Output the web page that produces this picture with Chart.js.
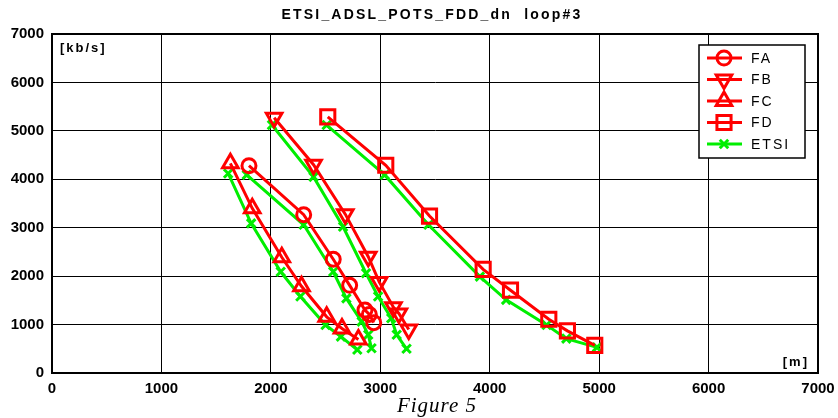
<!DOCTYPE html>
<html>
<head>
<meta charset="utf-8">
<script src="https://cdn.jsdelivr.net/npm/chart.js@4"></script>
<style>
  body { margin: 0; background: #fff; }
  canvas { display: block; }
</style>
</head>
<body>
<canvas id="chart" width="838" height="418"></canvas>
<script>
// distances [m] and bit rates [kb/s]
const faDist = [1800, 2300, 2570, 2720, 2860, 2900, 2940];
const faRate = [4280, 3270, 2350, 1810, 1300, 1210, 1040];
const fbDist = [2030, 2390, 2680, 2890, 2990, 3120, 3170, 3260];
const fbRate = [5270, 4300, 3280, 2400, 1880, 1360, 1230, 900];
const fcDist = [1630, 1830, 2100, 2280, 2510, 2650, 2800];
const fcRate = [4330, 3400, 2390, 1790, 1160, 920, 690];
const fdDist = [2520, 3050, 3450, 3940, 4190, 4540, 4710, 4960];
const fdRate = [5290, 4290, 3240, 2140, 1710, 1110, 870, 570];

// ETSI reference curves, one for each of the four cases
const etsiADist = [1780, 2300, 2570, 2690, 2830, 2890, 2920];
const etsiARate = [4090, 3060, 2090, 1540, 1060, 790, 510];
const etsiBDist = [2010, 2390, 2660, 2870, 2980, 3100, 3150, 3240];
const etsiBRate = [5120, 4050, 3020, 2060, 1580, 1130, 790, 500];
const etsiCDist = [1610, 1820, 2090, 2270, 2500, 2640, 2790];
const etsiCRate = [4120, 3090, 2090, 1580, 990, 750, 480];
const etsiDDist = [2510, 3040, 3440, 3910, 4150, 4520, 4700, 4980];
const etsiDRate = [5120, 4090, 3060, 1990, 1510, 990, 710, 530];

const axisTicks = [0, 1000, 2000, 3000, 4000, 5000, 6000, 7000];
const titleText = 'ETSI_ADSL_POTS_FDD_dn  loop#3';

const RED = '#ff0000';
const GREEN = '#00ee00';

function pts(xs, ys) {
    return xs.map((x, i) => ({ x: x, y: ys[i] }));
}

function redSet(label, xs, ys, style, radius, rotation) {
    return {
        label: label,
        data: pts(xs, ys),
        showLine: true,
        borderColor: RED,
        borderWidth: 3,
        pointStyle: style,
        pointRadius: radius,
        pointRotation: rotation || 0,
        pointBorderWidth: 3,
        pointBorderColor: RED,
        pointBackgroundColor: 'rgba(0,0,0,0)',
        order: 1
    };
}

function etsiSet(xs, ys) {
    return {
        label: 'ETSI',
        data: pts(xs, ys),
        showLine: true,
        borderColor: GREEN,
        borderWidth: 3,
        pointStyle: 'crossRot',
        pointRadius: 6,
        pointBorderWidth: 3,
        pointBorderColor: GREEN,
        order: 2
    };
}

const datasets = [
    redSet('FA', faDist, faRate, 'circle', 7),
    redSet('FB', fbDist, fbRate, 'triangle', 9, 180),
    redSet('FC', fcDist, fcRate, 'triangle', 9),
    redSet('FD', fdDist, fdRate, 'rect', 10),
    etsiSet(etsiADist, etsiARate),
    etsiSet(etsiBDist, etsiBRate),
    etsiSet(etsiCDist, etsiCRate),
    etsiSet(etsiDDist, etsiDRate)
];

// legend shows the four cases plus a single ETSI entry
const legendItems = [0, 1, 2, 3, 4];

const tickFont = { family: '"Liberation Sans", Arial, sans-serif', weight: 'bold', size: 15 };

const decorations = {
    id: 'decorations',
    afterDraw(chart) {
        const ctx = chart.ctx;
        const a = chart.chartArea;
        ctx.save();

        // frame
        ctx.strokeStyle = '#000';
        ctx.lineWidth = 2;
        ctx.strokeRect(a.left, a.top, a.right - a.left, a.bottom - a.top);

        ctx.fillStyle = '#000';
        ctx.textBaseline = 'middle';

        // title
        ctx.font = 'bold 14px "Liberation Sans", Arial, sans-serif';
        ctx.letterSpacing = '2.2px';
        ctx.textAlign = 'center';
        ctx.fillText(titleText, 432, 15);

        // unit labels
        ctx.font = 'bold 13px "Liberation Sans", Arial, sans-serif';
        ctx.letterSpacing = '2px';
        ctx.textAlign = 'left';
        ctx.fillText('[kb/s]', a.left + 8, a.top + 14);
        ctx.textAlign = 'right';
        ctx.fillText('[m]', a.right - 9, a.bottom - 11);

        // caption
        ctx.font = 'italic 21px "Liberation Serif", "Times New Roman", serif';
        ctx.letterSpacing = '1px';
        ctx.textAlign = 'center';
        ctx.fillText('Figure 5', 437, 406);

        // legend box
        const boxW = 106, boxH = 113;
        const bx = a.right - 13 - boxW, by = a.top + 11;
        ctx.fillStyle = '#fff';
        ctx.fillRect(bx, by, boxW, boxH);
        ctx.strokeStyle = '#000';
        ctx.lineWidth = 1.5;
        ctx.strokeRect(bx, by, boxW, boxH);

        ctx.font = '14px "Liberation Sans", Arial, sans-serif';
        ctx.letterSpacing = '2px';
        ctx.textAlign = 'left';
        legendItems.forEach((di, i) => {
            const ds = chart.data.datasets[di];
            const y = by + 13 + i * 21.5;
            ctx.strokeStyle = ds.borderColor;
            ctx.lineWidth = ds.borderWidth;
            ctx.beginPath();
            ctx.moveTo(bx + 8, y);
            ctx.lineTo(bx + 43, y);
            ctx.stroke();
            ctx.lineWidth = ds.pointBorderWidth;
            ctx.fillStyle = 'rgba(0,0,0,0)';
            Chart.helpers.drawPoint(ctx, {
                pointStyle: ds.pointStyle,
                radius: ds.pointRadius,
                rotation: ds.pointRotation || 0,
                borderWidth: ds.pointBorderWidth
            }, bx + 25, y);
            ctx.fillStyle = '#000';
            ctx.fillText(ds.label, bx + 52, y + 1);
        });

        ctx.restore();
    }
};

const plainLabel = v => String(v);

new Chart(document.getElementById('chart'), {
    type: 'scatter',
    data: { datasets: datasets },
    options: {
        responsive: false,
        animation: false,
        layout: { padding: { top: 34, right: 20, left: 0, bottom: 0 } },
        plugins: {
            legend: { display: false },
            title: { display: false },
            tooltip: { enabled: false }
        },
        scales: {
            x: {
                type: 'linear',
                min: 0,
                max: 7000,
                afterBuildTicks(s) { s.ticks = axisTicks.map(v => ({ value: v })); },
                afterFit(s) { s.height = 45; s.paddingLeft = 0; s.paddingRight = 0; },
                ticks: { color: '#000', font: tickFont, padding: 7, maxRotation: 0, autoSkip: false, callback: plainLabel },
                grid: { color: '#000', lineWidth: 1, drawTicks: false },
                border: { color: '#000', width: 2 }
            },
            y: {
                type: 'linear',
                min: 0,
                max: 7000,
                afterBuildTicks(s) { s.ticks = axisTicks.map(v => ({ value: v })); },
                afterFit(s) { s.width = 52; s.paddingTop = 0; s.paddingBottom = 0; },
                ticks: { color: '#000', font: tickFont, padding: 8, autoSkip: false, callback: plainLabel },
                grid: { color: '#000', lineWidth: 1, drawTicks: false },
                border: { color: '#000', width: 2 }
            }
        }
    },
    plugins: [decorations]
});
</script>
</body>
</html>
